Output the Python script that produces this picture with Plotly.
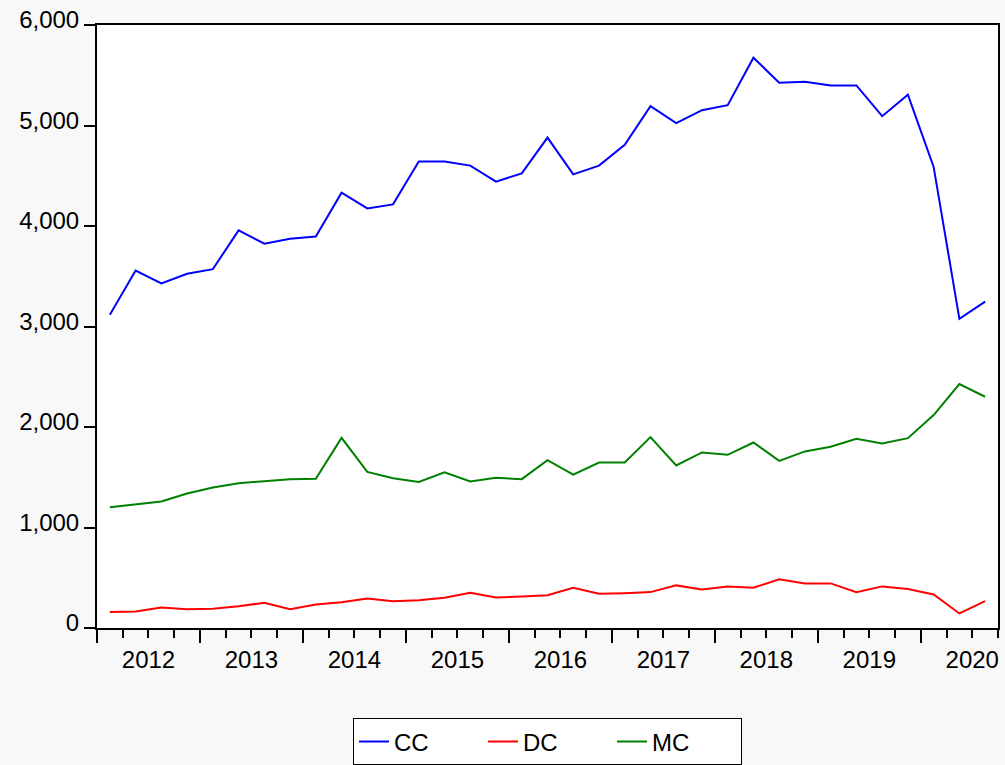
import plotly.graph_objects as go

# Quarterly data 2012Q1 .. 2020Q3
years = list(range(2012, 2021))
quarters = [(y, q) for y in years for q in range(1, 5)][:35]
x_vals = [y + (q - 0.5) / 4 for (y, q) in quarters]

cc = [3116, 3557, 3428, 3524, 3571, 3956, 3824, 3873, 3896,
      4332, 4175, 4215, 4641, 4641, 4601, 4442, 4524, 4880, 4514, 4601, 4807, 5192,
      5023, 5152, 5202, 5675, 5426, 5436, 5399, 5399, 5093, 5306, 4588, 3076, 3248]
dc = [158, 165, 204, 187, 191, 217, 251, 187, 234,
      257, 294, 267, 277, 301, 351, 304, 314, 327, 401, 341, 347, 357,
      424, 384, 414, 401, 484, 444, 444, 357, 414, 387, 334, 145, 267]
mc = [1201, 1228, 1258, 1338, 1398, 1441, 1464, 1481, 1484,
      1892, 1553, 1491, 1454, 1550, 1458, 1494, 1481, 1670, 1527, 1647, 1647, 1899,
      1617, 1747, 1723, 1846, 1663, 1757, 1803, 1882, 1836, 1889, 2119, 2428, 2301]

series = [("CC", cc, "#0000ff"), ("DC", dc, "#ff0000"), ("MC", mc, "#008000")]
year_labels = [str(y) for y in years]
y_ticks = [0, 1000, 2000, 3000, 4000, 5000, 6000]

FONT = "Liberation Sans, Arial, sans-serif"
FS = 24

fig = go.Figure()
for name, vals, col in series:
    fig.add_trace(go.Scatter(x=x_vals, y=vals, mode="lines", name=name,
                             line=dict(color=col, width=2)))
# invisible trace to realise the overlay axis carrying the year-boundary ticks
fig.add_trace(go.Scatter(x=[], y=[], xaxis="x2", showlegend=False, hoverinfo="skip"))

xr = [2012, 2020.75]
fig.update_layout(
    width=1005, height=765,
    margin=dict(l=97, r=7, t=25, b=137, autoexpand=False),
    paper_bgcolor="#f8f8f8",
    plot_bgcolor="#ffffff",
    font=dict(family=FONT, size=FS, color="#000000"),
    showlegend=True,
    legend=dict(orientation="h", x=0.5, xanchor="center", y=-0.15, yanchor="top",
                bordercolor="#000000", borderwidth=1, bgcolor="#ffffff",
                font=dict(family=FONT, size=FS, color="#000000"),
                entrywidth=84),
    xaxis=dict(range=xr, tickmode="array", automargin=False,
               tickvals=[y + 0.5 for y in years], ticktext=year_labels,
               ticks="", showgrid=False, zeroline=False,
               showline=True, linecolor="#000000", linewidth=2, mirror=True,
               tickfont=dict(family=FONT, size=FS, color="#000000"),
               ticklabelstandoff=9,
               minor=dict(ticks="outside", dtick=0.25, tick0=2012, ticklen=8,
                          tickcolor="#000000", tickwidth=1.5, showgrid=False)),
    xaxis2=dict(range=xr, overlaying="x", matches="x", side="bottom", automargin=False,
                tickmode="array", tickvals=years, showticklabels=False,
                ticks="outside", ticklen=14, tickcolor="#000000", tickwidth=1.5,
                showgrid=False, zeroline=False, showline=False),
    yaxis=dict(range=[0, 6000], tickmode="array", tickvals=y_ticks, automargin=False,
               tickformat=",", ticks="outside", ticklen=11, tickwidth=1.5,
               tickcolor="#000000", showgrid=False, zeroline=False,
               showline=True, linecolor="#000000", linewidth=2, mirror=True,
               tickfont=dict(family=FONT, size=FS, color="#000000"),
               ticklabelshift=-5),
)

fig.write_html("out.html",
               config={"displayModeBar": False},
               post_script="document.body.style.margin='0';document.body.style.background='#f8f8f8';")
